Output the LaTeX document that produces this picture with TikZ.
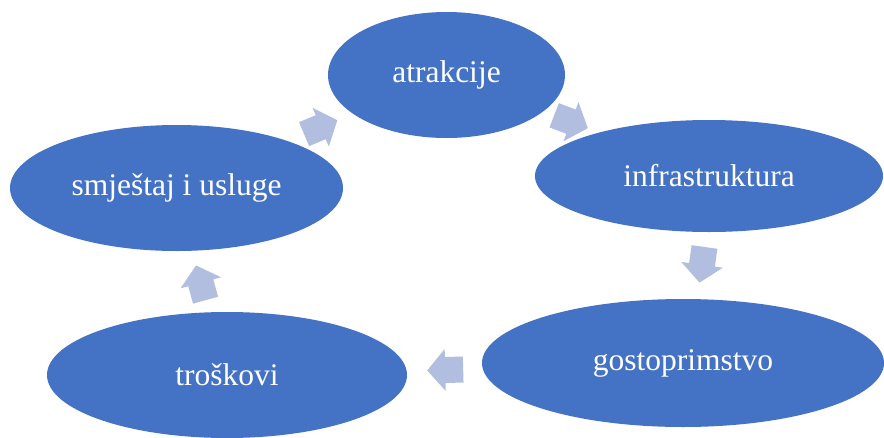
\documentclass[tikz,border=0pt]{standalone}
\usepackage{fontspec}
\setmainfont{Liberation Serif}
\usetikzlibrary{shapes.geometric}
\definecolor{ellblue}{RGB}{68,114,196}
\definecolor{arrblue}{RGB}{178,190,224}
\tikzset{
  bubble/.style={ellipse, fill=ellblue, draw=none, inner sep=0pt, text=white,
    font=\fontsize{31.5}{36}\selectfont},
  arrowfill/.style={fill=arrblue, draw=none}
}
\newcommand\blockarr[4]{% name, x, y, angle (image coords, clockwise)
  \coordinate (#1) at (#2,#3);
  \begin{scope}[shift={(#1)}, rotate={-#4}]
    \fill[arrowfill] (-18,-13) -- (0,-13) -- (0,-21) -- (18,0) -- (0,21) -- (0,13) -- (-18,13) -- cycle;
  \end{scope}}
\begin{document}
\begin{tikzpicture}[x=1pt,y=-1pt]
  \useasboundingbox (0,0) rectangle (884,437);
  \clip (0,0) rectangle (884,437);
  \node[bubble, minimum width=237pt, minimum height=126pt] (at) at (446.5,75) {atrakcije};
  \node[bubble, minimum width=348pt, minimum height=112pt] (inf) at (709,176) {infrastruktura};
  \node[bubble, minimum width=402pt, minimum height=128pt] (go) at (683,363) {gostoprimstvo};
  \node[bubble, minimum width=360pt, minimum height=126pt] (tr) at (227,375) {troškovi};
  \node[bubble, minimum width=333pt, minimum height=126pt] (sm) at (176.5,188) {smještaj i usluge};
  \blockarr{a1}{320.7}{127.2}{-22.7}
  \blockarr{a2}{571}{121.7}{21}
  \blockarr{a3}{702}{264.8}{98}
  \blockarr{a4}{445.2}{370}{178.5}
  \blockarr{a5}{200.8}{282.8}{-105.3}
\end{tikzpicture}
\end{document}
